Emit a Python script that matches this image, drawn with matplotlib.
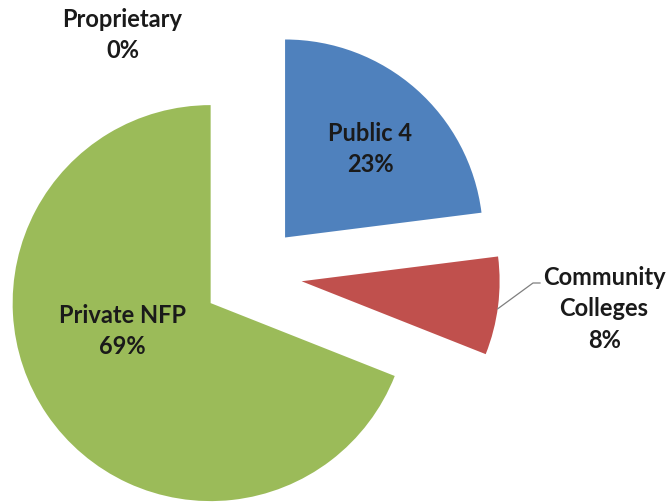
import math
import matplotlib
matplotlib.use("Agg")
import matplotlib.pyplot as plt

labels = ["Public 4", "Community\nColleges", "Private NFP", "Proprietary"]
shares = [23, 8, 69, 0]
colors = ["#4F81BD", "#C0504D", "#9BBB59", "#8064A2"]

# label placement: (distance as fraction of radius, angle in degrees) from each wedge centre
label_pos = [(0.62, 46.2), (1.534, -5.2), (0.469, 197.5), (1.161, 124.3)]

plt.rcParams["font.family"] = ["Lato", "DejaVu Sans"]

fig = plt.figure(figsize=(6.71, 5.03), dpi=100)
ax = fig.add_axes([0, 0, 1, 1])

radius = 198
wedges, _ = ax.pie(shares, explode=[50] * len(shares), startangle=90,
                   counterclock=False, colors=colors, center=(252, 228),
                   radius=radius, wedgeprops=dict(linewidth=0))

for w, lab, val, (frac, ang) in zip(wedges, labels, shares, label_pos):
    cx, cy = w.center
    a = math.radians(ang)
    x = cx + frac * radius * math.cos(a)
    y = cy + frac * radius * math.sin(a)
    ax.text(x, y, f"{lab}\n{val}%", ha="center", va="center",
            fontsize=17, fontweight="bold", color="#1a1a1a",
            linespacing=1.45, multialignment="center")

# leader line for Community Colleges
w = wedges[1]
cx, cy = w.center
a = math.radians(-8)
x0 = cx + radius * math.cos(a)
y0 = cy + radius * math.sin(a)
ax.plot([x0, 533, 540], [y0, 220, 220], color="#7f7f7f", linewidth=0.9)

ax.set_xlim(0, 671)
ax.set_ylim(0, 503)
ax.set_aspect("equal")
ax.axis("off")

fig.savefig("out.png", dpi=100)
